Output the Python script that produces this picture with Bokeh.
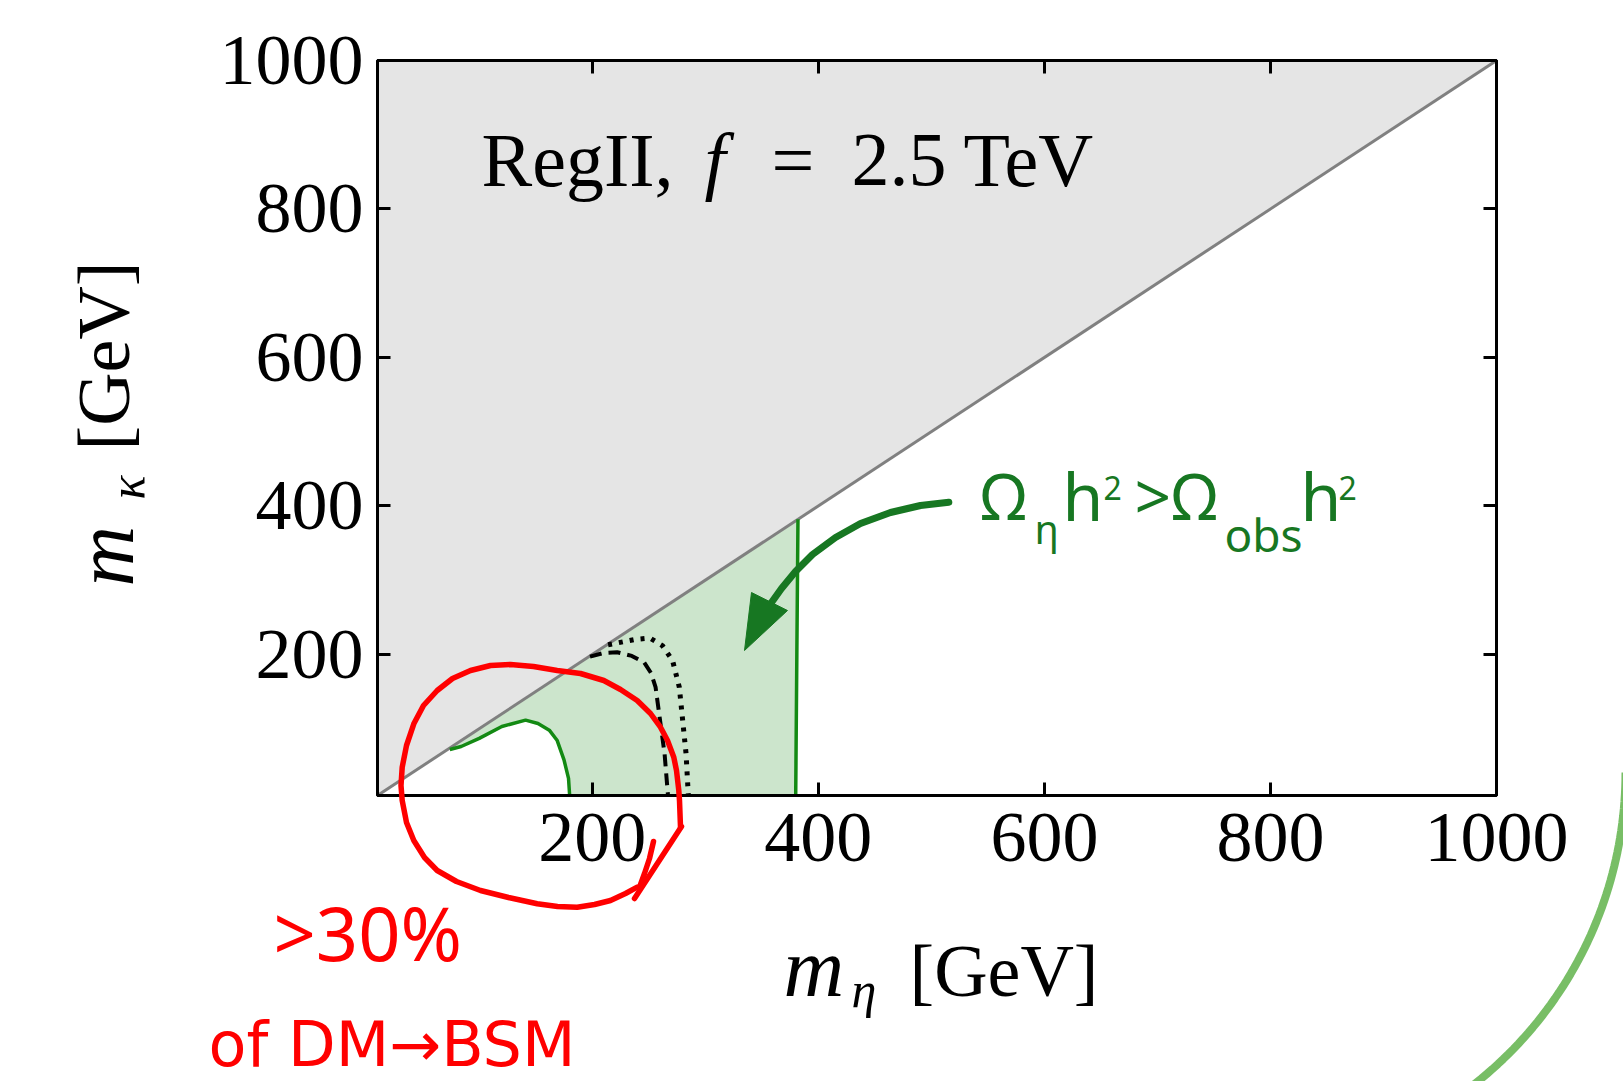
import numpy as np
from bokeh.plotting import figure
from bokeh.models import Range1d, LinearAxis, FixedTicker
from bokeh.core.properties import value
from bokeh.embed import file_html
from bokeh.resources import INLINE

# ---------------- data ----------------
x_ticks = [200, 400, 600, 800, 1000]
y_ticks = [200, 400, 600, 800, 1000]
axis_min, axis_max = 10, 1000

# kinematic boundary m_kappa = m_eta
diag_x = [10, 1000]
diag_y = [10, 1000]

# inner green contour (white region underneath)
inner_x = [74, 84, 100, 120, 141, 152, 162, 169, 175, 179, 180]
inner_y = [72, 76, 87, 103, 111.5, 107, 98, 84, 58, 33, 10]

# outer green contour (vertical)
outer_x = [382, 381, 380]
outer_y = [382, 200, 10]

# dashed contour
dash_x = [198, 210, 222, 235, 246, 252, 256, 260, 264, 267]
dash_y = [197, 202, 203, 198, 189, 175, 156, 111, 66, 10]

# dotted contour
dot_x = [214, 237, 251, 262, 271, 277, 280, 283, 285]
dot_y = [213, 220, 222, 212, 192, 156, 111, 66, 10]

# ---------------- layout ----------------
W, H = 1623, 1081
FL, FR, FT, FB = 377, 1496, 60, 795


def dx(px):
    return axis_min + (px - FL) * (axis_max - axis_min) / (FR - FL)


def dy(py):
    return axis_min + (FB - py) * (axis_max - axis_min) / (FB - FT)


# hand-drawn annotation shapes (pixel positions of the overlay strokes)
arrow_px = [(948.3, 501.7), (920, 505), (890, 512), (860, 523), (835, 537),
            (812, 554), (795, 571), (781, 588), (771, 602)]
arrow_head_px = [(744, 650), (751, 592), (787, 610)]
red_loop_px = [(680, 826.7), (679, 800), (678.3, 790), (676, 770), (673.3, 756.7), (667, 740),
               (660, 726.7), (650, 713), (636.7, 700), (620, 689), (603.3, 680), (580, 673),
               (556.7, 670), (533, 666), (510, 664), (490, 665), (470, 670), (452, 678),
               (436.7, 690), (423, 705), (413.3, 723.3), (406, 745), (401.7, 766.7), (400.5, 785),
               (401.7, 800), (406, 822), (413.3, 840), (424, 857), (436.7, 870), (456, 881),
               (480, 890), (508, 897), (536.7, 903.3), (557, 906), (576.7, 906.7), (594, 904),
               (610, 900), (625, 893), (636.7, 886.7)]
red_tail_px = [(681, 826), (634, 898)]
red_hook_px = [(653, 841), (649, 858), (644, 873), (640, 884)]
arc_center_px = (1228, 772)
arc_radius_px = 397

p = figure(width=W, height=H,
           x_range=Range1d(axis_min, axis_max), y_range=Range1d(axis_min, axis_max),
           output_backend="svg", toolbar_location=None,
           min_border_left=FL, min_border_right=W - FR,
           min_border_top=FT, min_border_bottom=H - FB)
p.grid.visible = False
p.background_fill_color = "white"
p.border_fill_color = "white"
p.outline_line_color = "black"
p.outline_line_width = 3

p.add_layout(LinearAxis(), "above")
p.add_layout(LinearAxis(), "right")

for ax in p.xaxis:
    ax.ticker = FixedTicker(ticks=x_ticks)
for ax in p.yaxis:
    ax.ticker = FixedTicker(ticks=y_ticks)
for ax in p.axis:
    ax.major_tick_in = 13
    ax.major_tick_out = 0
    ax.major_tick_line_width = 3
    ax.major_tick_line_color = "black"
    ax.minor_tick_line_color = None
    ax.axis_line_width = 3
    ax.axis_line_color = "black"
    ax.major_label_text_font = "Liberation Serif"
    ax.major_label_text_font_size = "72px"
    ax.major_label_text_color = "black"
p.above[0].major_label_text_color = None
p.right[0].major_label_text_color = None
p.below[0].major_label_standoff = 18
p.left[0].major_label_standoff = 14

# fills
green_x = [inner_x[0], outer_x[0]] + outer_x[1:] + inner_x[::-1]
green_y = [inner_x[0], outer_x[0]] + outer_y[1:] + inner_y[::-1]
p.patch(green_x, green_y, fill_color="#cce5cc", line_color=None)
p.patch([diag_x[0], diag_x[1], diag_x[0]], [diag_y[0], diag_y[1], diag_y[1]],
        fill_color="#e5e5e5", line_color=None)

# contours
p.line(diag_x, diag_y, line_color="#808080", line_width=3)
p.line(inner_x, inner_y, line_color="#138a13", line_width=3.5)
p.line(outer_x, outer_y, line_color="#138a13", line_width=3.5)
p.line(dash_x, dash_y, line_color="black", line_width=4, line_dash="12 7")
p.line(dot_x, dot_y, line_color="black", line_width=5, line_dash="4 7")

# green arrow
GREEN = "#177722"
p.line([dx(a) for a, b in arrow_px], [dy(b) for a, b in arrow_px],
       line_color=GREEN, line_width=7, line_join="round", line_cap="round")
p.patch([dx(a) for a, b in arrow_head_px], [dy(b) for a, b in arrow_head_px],
        fill_color=GREEN, line_color=GREEN, line_width=1)

# red hand-drawn loop (overlay, outside the frame)
RED = "#ff0000"
for pts in (red_loop_px, red_tail_px, red_hook_px):
    p.line([dx(a) for a, b in pts], [dy(b) for a, b in pts], line_color=RED,
           line_width=5.5, line_join="round", line_cap="round", level="overlay")

# decorative green arc at bottom right
t = np.radians(np.linspace(0, 62, 60))
arc_px_x = arc_center_px[0] + arc_radius_px * np.cos(t)
arc_px_y = arc_center_px[1] + arc_radius_px * np.sin(t)
p.line([dx(a) for a in arc_px_x], [dy(b) for b in arc_px_y],
       line_color="#78be66", line_width=8, level="overlay")

SERIF = "Liberation Serif"
HAND = "Noto Sans"
DJ = "DejaVu Sans"
MID = {SERIF: 0.36, HAND: 0.39, DJ: 0.35}   # baseline -> middle offset (fraction of font size)


def txt(px, py, s, font, size, color="black", style="normal", rotated=False):
    off = MID[font] * size
    if rotated:
        ax_, ay_, ang = px - off, py, np.pi / 2
    else:
        ax_, ay_, ang = px, py - off, 0.0
    p.text(x=[dx(ax_)], y=[dy(ay_)], text=[s], text_font=value(font),
           text_font_size=value(f"{size}px"), text_font_style=value(style),
           text_color=color, text_baseline="middle", text_align="left",
           angle=ang, level="overlay")


# title inside plot
txt(481, 187, "RegII,", SERIF, 76)
txt(704, 187, "f", SERIF, 76, style="italic")
txt(771, 187, "=", SERIF, 76)
txt(851, 187, "2.5", SERIF, 76)
txt(963, 187, "TeV", SERIF, 76)

# x axis label
txt(783, 997, "m", SERIF, 84, style="italic")
txt(851, 1007, "η", SERIF, 50, style="italic")
txt(909, 997, "[GeV]", SERIF, 74)

# y axis label (rotated)
txt(134, 586, "m", SERIF, 84, style="italic", rotated=True)
txt(144, 499, "κ", SERIF, 50, style="italic", rotated=True)
txt(130, 450, "[GeV]", SERIF, 74, rotated=True)

# green annotation
txt(980, 520, "Ω", HAND, 64, GREEN)
txt(1034, 544, "η", HAND, 40, GREEN)
txt(1062, 520, "h", HAND, 66, GREEN)
txt(1103, 500, "2", HAND, 32, GREEN)
txt(1134, 520, ">", HAND, 64, GREEN)
txt(1171, 520, "Ω", HAND, 64, GREEN)
txt(1224, 551, "obs", HAND, 46, GREEN)
txt(1300, 520, "h", HAND, 66, GREEN)
txt(1338, 500, "2", HAND, 32, GREEN)

# red annotation
txt(273, 961, ">30%", HAND, 74, RED)
txt(208, 1066, "of DM→BSM", DJ, 62, RED)

open("out.html", "w").write(file_html(p, INLINE))
